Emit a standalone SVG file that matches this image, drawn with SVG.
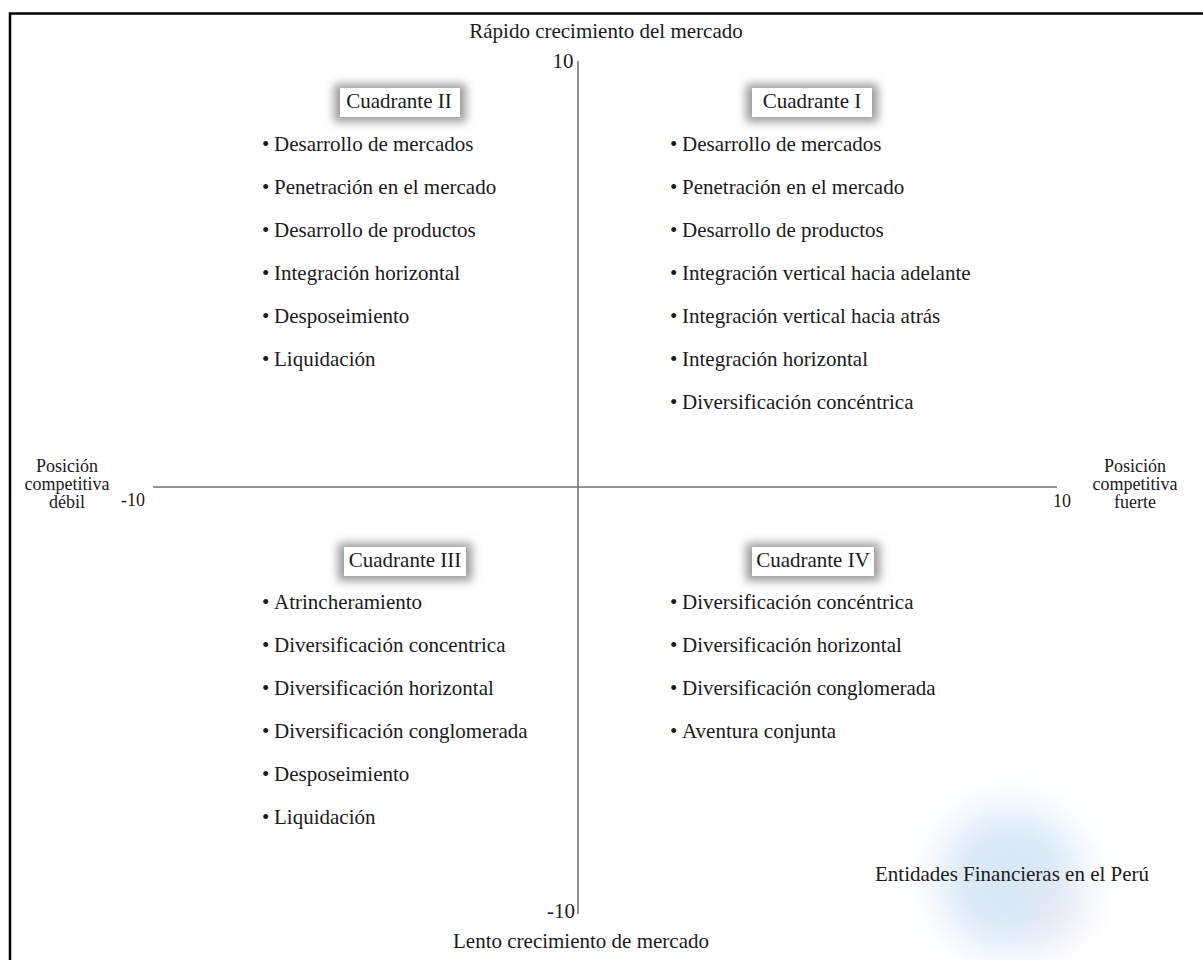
<svg xmlns="http://www.w3.org/2000/svg" width="1203" height="960" viewBox="0 0 1203 960">
<style>
text{font-family:'Liberation Serif','Tinos','DejaVu Serif',serif;font-size:21px;fill:#1a1a1a}
.c{text-anchor:middle}
.s{font-size:18px}
.axis{stroke:#6e6e6e;stroke-width:1.5;fill:none}
.frame{stroke:#000;stroke-width:2.5;fill:none}
.shadow{fill:#9a9a9a;filter:url(#blur)}
.box{fill:#fff}
</style>
<defs>
<filter id="blur" x="-30%" y="-60%" width="160%" height="220%"><feGaussianBlur stdDeviation="5"/></filter>
<filter id="blur2" x="-50%" y="-50%" width="200%" height="200%"><feGaussianBlur stdDeviation="20"/></filter>
</defs>
<rect width="1203" height="960" fill="#fff"/>
<path class="frame" d="M10,960 V13.5 H1203"/>
<g id="watermark">
<circle cx="1010" cy="880" r="72" fill="#d8e8f7" filter="url(#blur2)"/>
<circle cx="1055" cy="915" r="28" fill="#f5e4ec" filter="url(#blur2)" opacity="0.5"/>
</g>
<g id="connectors">
<line class="axis" x1="578" y1="61" x2="578" y2="914"/>
<line class="axis" x1="153" y1="487" x2="1057" y2="487"/>
</g>
<g id="axis-labels">
<text class="c" x="606" y="38">Rápido crecimiento del mercado</text>
<text class="c" x="563" y="68">10</text>
<text class="c" x="561" y="918">-10</text>
<text class="c" x="581" y="948">Lento crecimiento de mercado</text>
<text class="c s" x="67" y="472">Posición</text>
<text class="c s" x="67" y="490">competitiva</text>
<text class="c s" x="67" y="508">débil</text>
<text class="c s" x="133" y="506">-10</text>
<text class="c s" x="1135" y="472">Posición</text>
<text class="c s" x="1135" y="490">competitiva</text>
<text class="c s" x="1135" y="508">fuerte</text>
<text class="c s" x="1062" y="507">10</text>
</g>
<g id="quadrant-2">
<rect class="shadow" x="334" y="84" width="132" height="38"/>
<rect class="box" x="340" y="88" width="120" height="29"/>
<text class="c" x="399" y="108">Cuadrante II</text>
<text x="262" y="151">•<tspan x="274">Desarrollo de mercados</tspan></text>
<text x="262" y="194">•<tspan x="274">Penetración en el mercado</tspan></text>
<text x="262" y="237">•<tspan x="274">Desarrollo de productos</tspan></text>
<text x="262" y="280">•<tspan x="274">Integración horizontal</tspan></text>
<text x="262" y="323">•<tspan x="274">Desposeimiento</tspan></text>
<text x="262" y="366">•<tspan x="274">Liquidación</tspan></text>
</g>
<g id="quadrant-1">
<rect class="shadow" x="746" y="84" width="132" height="38"/>
<rect class="box" x="752" y="88" width="120" height="29"/>
<text class="c" x="812" y="108">Cuadrante I</text>
<text x="670" y="151">•<tspan x="682">Desarrollo de mercados</tspan></text>
<text x="670" y="194">•<tspan x="682">Penetración en el mercado</tspan></text>
<text x="670" y="237">•<tspan x="682">Desarrollo de productos</tspan></text>
<text x="670" y="280">•<tspan x="682">Integración vertical hacia adelante</tspan></text>
<text x="670" y="323">•<tspan x="682">Integración vertical hacia atrás</tspan></text>
<text x="670" y="366">•<tspan x="682">Integración horizontal</tspan></text>
<text x="670" y="409">•<tspan x="682">Diversificación concéntrica</tspan></text>
</g>
<g id="quadrant-3">
<rect class="shadow" x="338" y="543" width="134" height="38"/>
<rect class="box" x="344" y="547" width="122" height="29"/>
<text class="c" x="405" y="567">Cuadrante III</text>
<text x="262" y="609">•<tspan x="274">Atrincheramiento</tspan></text>
<text x="262" y="652">•<tspan x="274">Diversificación concentrica</tspan></text>
<text x="262" y="695">•<tspan x="274">Diversificación horizontal</tspan></text>
<text x="262" y="738">•<tspan x="274">Diversificación conglomerada</tspan></text>
<text x="262" y="781">•<tspan x="274">Desposeimiento</tspan></text>
<text x="262" y="824">•<tspan x="274">Liquidación</tspan></text>
</g>
<g id="quadrant-4">
<rect class="shadow" x="746" y="543" width="134" height="38"/>
<rect class="box" x="752" y="547" width="122" height="29"/>
<text class="c" x="813" y="567">Cuadrante IV</text>
<text x="670" y="609">•<tspan x="682">Diversificación concéntrica</tspan></text>
<text x="670" y="652">•<tspan x="682">Diversificación horizontal</tspan></text>
<text x="670" y="695">•<tspan x="682">Diversificación conglomerada</tspan></text>
<text x="670" y="738">•<tspan x="682">Aventura conjunta</tspan></text>
</g>
<g id="footer-label">
<text x="875" y="881">Entidades Financieras en el Perú</text>
</g>
</svg>
